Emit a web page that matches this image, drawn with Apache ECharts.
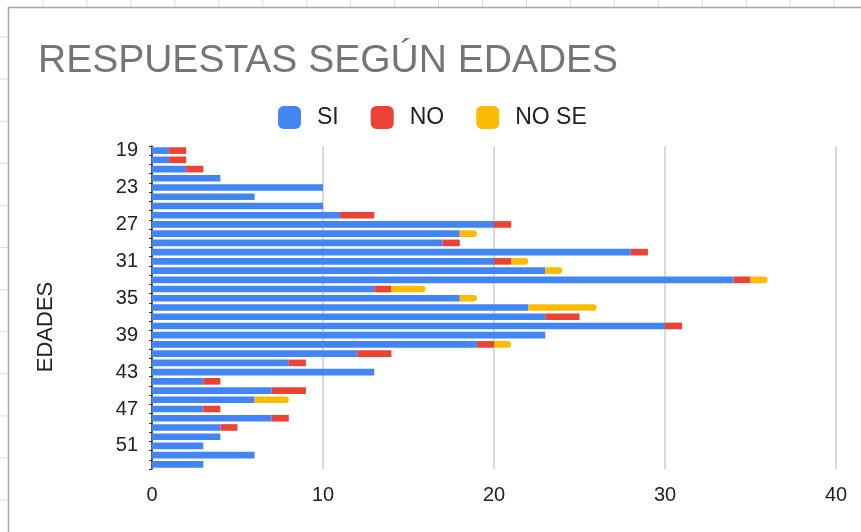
<!DOCTYPE html>
<html lang="es">
<head>
    <meta charset="UTF-8">
    <title>Respuestas según edades</title>
    <script src="https://cdn.jsdelivr.net/npm/echarts@6/dist/echarts.min.js"></script>
    <style>
        html, body { margin: 0; padding: 0; background: #fff; }
    </style>
</head>
<body>
<div id="main" style="width: 861px;height:532px;"></div>
<script>
    // edades 19..53
    var edades = ['19','20','21','22','23','24','25','26','27','28','29','30','31','32','33','34','35',
        '36','37','38','39','40','41','42','43','44','45','46','47','48','49','50','51','52','53'];
    var si   = [1,1,2,4,10,6,10,11,20,18,17,28,20,23,34,13,18,22,23,30,23,19,12,8,13,3,7,6,3,7,4,4,3,6,3];
    var no   = [1,1,1,0,0,0,0,2,1,0,1,1,1,0,1,1,0,0,2,1,0,1,2,1,0,1,2,0,1,1,1,0,0,0,0];
    var nose = [0,0,0,0,0,0,0,0,0,1,0,0,1,1,1,2,1,4,0,0,0,1,0,0,0,0,0,2,0,0,0,0,0,0,0];
    var xTicks = [0, 10, 20, 30, 40];

    var font = '"Liberation Sans", Arial, sans-serif';

    // fondo de hoja de cálculo (líneas de celdas)
    var fondo = [];
    for (var x = 43; x < 861; x += 43.95) {
        fondo.push({type: 'line', shape: {x1: x, y1: 0, x2: x, y2: 7}, style: {stroke: '#dcdcdc', lineWidth: 1}});
    }
    for (var y = 37; y < 532; y += 42.1) {
        fondo.push({type: 'line', shape: {x1: 0, y1: y, x2: 8, y2: y}, style: {stroke: '#dcdcdc', lineWidth: 1}});
    }
    fondo.push({type: 'polyline', shape: {points: [[8.5, 532], [8.5, 7.5], [861, 7.5]]}, style: {stroke: '#a8a8a8', lineWidth: 1.5, fill: null}});
    fondo.push({type: 'text', x: 46, y: 327, rotation: Math.PI / 2,
        style: {text: 'EDADES', font: '22px ' + font, fill: '#222', align: 'center', verticalAlign: 'middle'}});

    var myChart = echarts.init(document.getElementById('main'));
    var option = {
        animation: false,
        title: {
            text: 'RESPUESTAS SEGÚN EDADES',
            left: 33,
            top: 37,
            textStyle: {color: '#757575', fontSize: 39, fontWeight: 'normal', fontFamily: font}
        },
        legend: {
            data: ['SI', 'NO', 'NO SE'],
            top: 101,
            left: 273,
            icon: 'roundRect',
            itemWidth: 23,
            itemHeight: 23,
            itemGap: 32,
            textStyle: {color: '#222', fontSize: 23, fontFamily: font, padding: [0, 0, 0, 11]}
        },
        grid: {
            left: 152,
            right: 25,
            top: 146,
            bottom: 63
        },
        xAxis: {
            type: 'value',
            min: 0,
            max: 40,
            interval: 10,
            axisLine: {show: false},
            axisTick: {show: false},
            axisLabel: {
                color: '#222', fontSize: 20, fontFamily: font, margin: 16,
                formatter: function (v) { return xTicks.indexOf(v) >= 0 ? String(v) : ''; }
            },
            splitLine: {lineStyle: {color: '#cccccc', width: 1.5}}
        },
        yAxis: {
            type: 'category',
            inverse: true,
            data: edades,
            axisLine: {lineStyle: {color: '#333', width: 1.5}},
            axisTick: {show: true, interval: 0, length: 3, lineStyle: {color: '#333'}},
            axisLabel: {interval: 3, color: '#222', fontSize: 20, fontFamily: font, margin: 14}
        },
        series: [
            {name: 'SI', type: 'bar', stack: 'total', barWidth: '72%', itemStyle: {color: '#4285F4'}, data: si},
            {name: 'NO', type: 'bar', stack: 'total', itemStyle: {color: '#EA4335'}, data: no},
            {name: 'NO SE', type: 'bar', stack: 'total', itemStyle: {color: '#FBBC04', borderRadius: [0, 4, 4, 0]}, data: nose}
        ],
        graphic: fondo
    };
    myChart.setOption(option);
</script>
</body>
</html>
